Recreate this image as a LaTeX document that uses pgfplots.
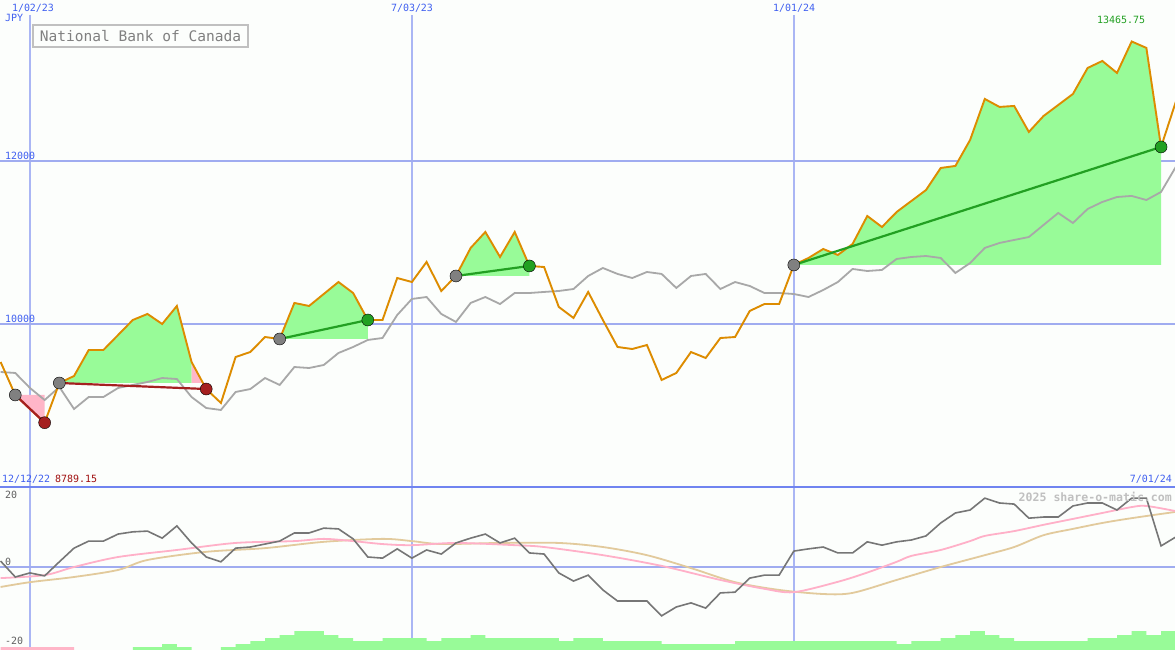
\documentclass[border=0pt]{standalone}
\usepackage{pgfplots}
\usepackage{pgfplotstable}
\pgfplotsset{compat=1.18}
\usepackage{fontspec}
\setmainfont{DejaVu Sans Mono}
\newfontfamily\lblfont{DejaVu Sans Mono}

\definecolor{bg}{RGB}{252,254,252}
\definecolor{gridb}{RGB}{160,172,240}
\definecolor{gridv}{RGB}{170,182,244}
\definecolor{sepb}{RGB}{112,132,240}
\definecolor{lblue}{RGB}{64,96,240}
\definecolor{orng}{RGB}{221,140,0}
\definecolor{grayp}{RGB}{168,168,168}
\definecolor{osc}{RGB}{118,118,118}
\definecolor{pinkl}{RGB}{255,176,200}
\definecolor{tanl}{RGB}{226,202,156}
\definecolor{palegr}{RGB}{152,251,152}
\definecolor{pinkf}{RGB}{255,182,200}
\definecolor{entryg}{RGB}{128,128,128}
\definecolor{lossr}{RGB}{165,32,32}
\definecolor{gaing}{RGB}{34,160,34}
\definecolor{txtred}{RGB}{160,16,16}
\definecolor{boxgray}{RGB}{192,192,192}
\definecolor{titlegray}{RGB}{128,128,128}
\definecolor{wmgray}{RGB}{192,192,192}
\definecolor{axgray}{RGB}{96,96,96}

\pgfplotstableread{
k price index osc
0 9534 9411 1.6
1 9129 9399 -2.7
2 8957 9215 -1.6
3 8789 9067 -2.4
4 9276 9227 1.4
5 9362 8957 5.1
6 9681 9104 7.0
7 9681 9104 7.0
8 9865 9215 8.9
9 10049 9252 9.5
10 10123 9288 9.7
11 10000 9337 7.8
12 10221 9325 11.1
13 9534 9104 6.5
14 9202 8969 2.7
15 9031 8945 1.4
16 9595 9166 5.1
17 9656 9202 5.4
18 9840 9337 6.2
19 9816 9252 7.0
20 10258 9472 9.2
21 10221 9460 9.2
22 10368 9497 10.5
23 10515 9644 10.3
24 10380 9718 7.6
25 10049 9804 2.7
26 10049 9828 2.4
27 10564 10110 4.9
28 10515 10307 2.4
29 10761 10331 4.6
30 10405 10123 3.5
31 10589 10025 6.5
32 10933 10258 7.8
33 11129 10331 8.9
34 10822 10245 6.5
35 11129 10380 7.8
36 10712 10380 3.8
37 10699 10393 3.5
38 10209 10405 -1.6
39 10074 10429 -3.8
40 10393 10589 -2.2
41 10049 10687 -6.2
42 9718 10614 -9.2
43 9693 10564 -9.2
44 9742 10638 -9.2
45 9313 10614 -13.2
46 9399 10442 -10.8
47 9656 10589 -9.7
48 9583 10614 -11.1
49 9828 10429 -7.0
50 9840 10515 -6.8
51 10160 10466 -3.0
52 10245 10380 -2.2
53 10245 10380 -2.2
54 10724 10368 4.3
55 10810 10331 4.9
56 10920 10417 5.4
57 10847 10515 3.8
58 10982 10675 3.8
59 11325 10650 6.8
60 11190 10663 5.9
61 11374 10798 6.8
62 11509 10822 7.3
63 11644 10834 8.4
64 11914 10810 11.9
65 11939 10626 14.6
66 12258 10748 15.4
67 12761 10933 18.6
68 12663 10994 17.3
69 12675 11031 17.0
70 12356 11067 13.2
71 12552 11215 13.5
72 12687 11362 13.5
73 12822 11239 16.5
74 13141 11411 17.3
75 13227 11497 17.3
76 13080 11558 15.4
77 13466 11571 18.6
78 13387 11521 18.6
79 12172 11620 5.7
80 12724 11926 8.1
}\pricedata

\pgfplotstableread{
k v
0 -3.0
3 -2.2
5 0
8 2.7
12 4.6
16 6.5
20 7.0
22 7.6
24 7.0
26 6.2
28 5.9
31 6.5
35 5.9
37 5.4
41 3.2
45 0.3
49 -3.5
52 -5.9
54 -6.8
57 -4.0
59 -1.5
61 1.4
62 3.0
64 4.6
66 7.0
67 8.4
69 9.7
71 11.4
73 13.0
75 14.6
77 16.2
78 16.5
80 15.1
}\pinkdata

\pgfplotstableread{
k v
0 -5.4
2 -4.1
5 -2.7
8 -0.8
10 1.9
14 4.1
18 5.1
22 6.8
26 7.6
28 7.0
30 6.2
34 6.5
38 6.5
41 5.4
44 3.2
47 -0.3
50 -4.1
53 -6.2
56 -7.3
58 -7.0
61 -3.5
64 0
67 3.2
69 5.4
71 8.6
73 10.3
75 11.9
77 13.2
80 14.9
}\tandata

\begin{document}
\begin{tikzpicture}
\fill[bg] (0,0) rectangle (1175bp,650bp);

% ---------- lower panel ----------
\begin{axis}[name=bot, at={(0,0)}, anchor=south west, scale only axis,
  width=1175bp, height=163bp, xmin=-0.04, xmax=79.95, ymin=-22.43, ymax=21.62,
  hide axis, clip=true]
\addplot[gridv, line width=1.5bp] coordinates {(2,-22.43) (2,21.62)};
\addplot[gridv, line width=1.5bp] coordinates {(28,-22.43) (28,21.62)};
\addplot[gridv, line width=1.5bp] coordinates {(54,-22.43) (54,21.62)};
\addplot[gridb, line width=2bp] coordinates {(-0.04,0) (79.95,0)};
% volume-like bars
\addplot[pinkf, fill=pinkf, draw=none, const plot] coordinates {(0,-22.5) (0,-21.62) (5,-22.5)};
\addplot[palegr, fill=palegr, draw=none, const plot] coordinates {
 (9,-22.5) (9,-21.62) (11,-20.81) (12,-21.62) (13,-22.5) (15,-21.62) (16,-20.81)
 (17,-20) (18,-19.19) (19,-18.38) (20,-17.3) (22,-18.38) (23,-19.19) (24,-20)
 (26,-19.19) (29,-20) (30,-19.19) (32,-18.38) (33,-19.19) (38,-20) (39,-19.19)
 (41,-20) (45,-20.81) (50,-20) (61,-20.81) (62,-20) (64,-19.19) (65,-18.38)
 (66,-17.3) (67,-18.38) (68,-19.19) (69,-20) (74,-19.19) (76,-18.38) (77,-17.3)
 (78,-18.38) (79,-17.3) (80,-17.3) (80,-22.5)};
\addplot[tanl, line width=1.8bp, smooth] table[x=k, y=v] {\tandata};
\addplot[pinkl, line width=1.8bp, smooth] table[x=k, y=v] {\pinkdata};
\addplot[osc, line width=1.6bp] table[x=k, y=osc] {\pricedata};
\end{axis}

% ---------- upper panel ----------
\begin{axis}[name=top, at={(0,163bp)}, anchor=south west, scale only axis,
  width=1175bp, height=487bp, xmin=-0.04, xmax=79.95, ymin=8000, ymax=13975,
  hide axis, clip=true]
\addplot[gridv, line width=1.5bp] coordinates {(2,8000) (2,13791)};
\addplot[gridv, line width=1.5bp] coordinates {(28,8000) (28,13791)};
\addplot[gridv, line width=1.5bp] coordinates {(54,8000) (54,13791)};
\addplot[gridb, line width=2bp] coordinates {(-0.04,12000) (79.95,12000)};
\addplot[gridb, line width=2bp] coordinates {(-0.04,10000) (79.95,10000)};
% trade areas
\addplot[pinkf, fill=pinkf, draw=none] coordinates {(1,9129) (2,8957) (3,8789) (3,9129)};
\addplot[palegr, fill=palegr, draw=none] coordinates {(4,9276) (5,9362) (6,9681) (7,9681) (8,9865) (9,10049) (10,10123) (11,10000) (12,10221) (13,9534) (13,9276)};
\addplot[pinkf, fill=pinkf, draw=none] coordinates {(13,9276) (13,9534) (14,9202) (14,9276)};
\addplot[palegr, fill=palegr, draw=none] coordinates {(19,9816) (20,10258) (21,10221) (22,10368) (23,10515) (24,10380) (25,10049) (25,9816)};
\addplot[palegr, fill=palegr, draw=none] coordinates {(31,10589) (32,10933) (33,11129) (34,10822) (35,11129) (36,10712) (36,10589)};
\addplot[palegr, fill=palegr, draw=none] coordinates {(54,10724) (55,10810) (56,10920) (57,10847) (58,10982) (59,11325) (60,11190) (61,11374) (62,11509) (63,11644) (64,11914) (65,11939) (66,12258) (67,12761) (68,12663) (69,12675) (70,12356) (71,12552) (72,12687) (73,12822) (74,13141) (75,13227) (76,13080) (77,13466) (78,13387) (79,12172) (79,10724)};
% comparison and price lines
\addplot[grayp, line width=1.8bp] table[x=k, y=index] {\pricedata};
\addplot[orng, line width=1.9bp] table[x=k, y=price] {\pricedata};
% trade lines
\addplot[lossr, line width=2.2bp] coordinates {(1,9129) (3,8789)};
\addplot[lossr, line width=2.2bp] coordinates {(4,9276) (14,9202)};
\addplot[gaing, line width=2.2bp] coordinates {(19,9816) (25,10049)};
\addplot[gaing, line width=2.2bp] coordinates {(31,10589) (36,10712)};
\addplot[gaing, line width=2.2bp] coordinates {(54,10724) (79,12172)};
% markers
\addplot[only marks, mark=*, mark size=6bp, mark options={draw=none, fill=entryg}] coordinates {(1,9129) (4,9276) (19,9816) (31,10589) (54,10724)};
\addplot[only marks, mark=*, mark size=6bp, mark options={draw=none, fill=lossr}] coordinates {(3,8789) (14,9202)};
\addplot[only marks, mark=*, mark size=6bp, mark options={draw=none, fill=gaing}] coordinates {(25,10049) (36,10712) (79,12172)};
\end{axis}

\draw[sepb, line width=2bp] (0,163bp) -- (1175bp,163bp);

% labels (1 px = 1 bp, y measured from the bottom)
\begin{scope}[every node/.style={inner sep=0pt, font=\lblfont\fontsize{10}{11}\selectfont}]
\node[lblue] at (33bp,642bp) {1/02/23};
\node[lblue] at (412bp,642bp) {7/03/23};
\node[lblue] at (794bp,642bp) {1/01/24};
\node[lblue, anchor=west] at (5bp,632bp) {JPY};
\node[lblue, anchor=west] at (5bp,494bp) {12000};
\node[lblue, anchor=west] at (5bp,331bp) {10000};
\node[gaing] at (1121bp,630bp) {13465.75};
\node[lblue, anchor=west] at (2bp,171bp) {12/12/22};
\node[txtred, anchor=west] at (55bp,171bp) {8789.15};
\node[lblue, anchor=east] at (1172bp,171bp) {7/01/24};
\node[axgray, anchor=west] at (5bp,155bp) {20};
\node[axgray, anchor=west] at (5bp,88bp) {0};
\node[axgray, anchor=west] at (5bp,9bp) {-20};
\end{scope}
\node[wmgray, anchor=east, inner sep=0pt, font=\lblfont\bfseries\fontsize{11.6}{12}\selectfont] at (1172bp,153bp) {2025 share-o-matic.com};
\node[draw=boxgray, line width=2bp, fill=bg, minimum width=215bp, minimum height=22bp, inner sep=0pt, text=titlegray, font=\lblfont\fontsize{14.6}{15}\selectfont] at (140.5bp,614bp) {National Bank of Canada};

\pgfresetboundingbox
\path[use as bounding box] (0,0) rectangle (1175bp,650bp);
\end{tikzpicture}
\end{document}
